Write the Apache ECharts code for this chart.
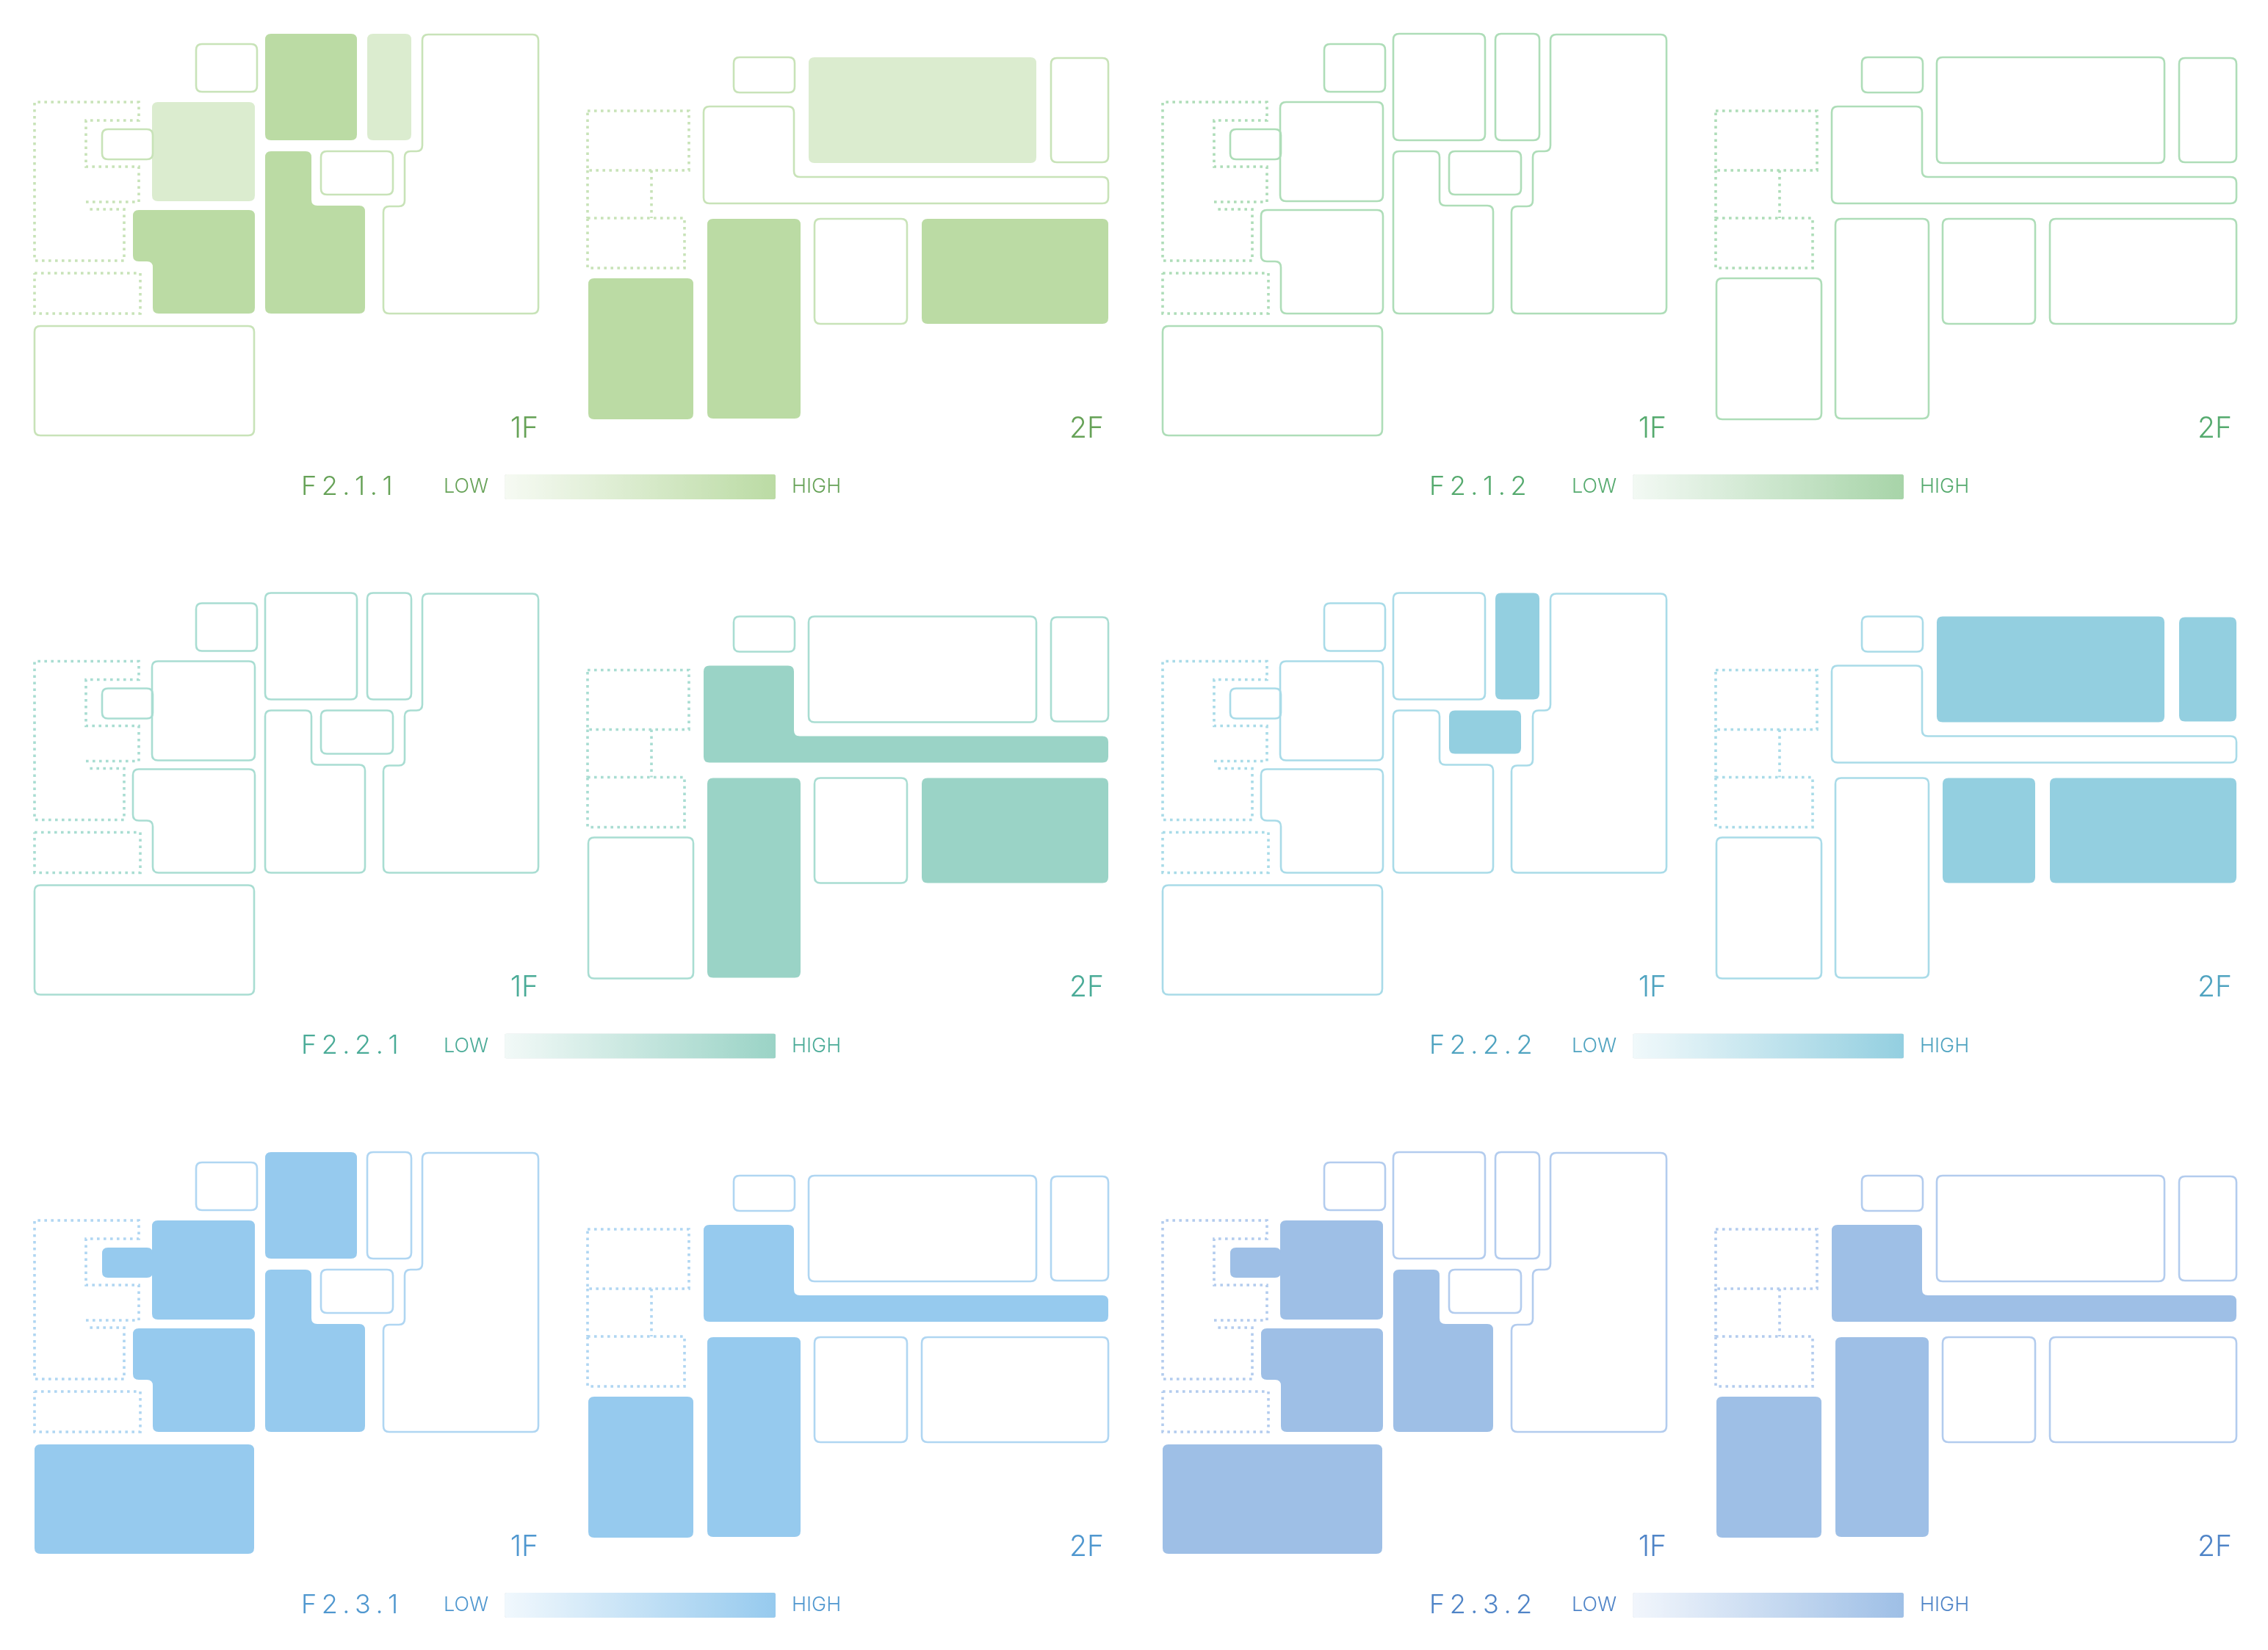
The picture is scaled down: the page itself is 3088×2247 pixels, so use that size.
<!DOCTYPE html>
<html>
<head>
<meta charset="utf-8">
<style>html,body{margin:0;padding:0;background:#fff}#c{width:3088px;height:2247px}</style>
<script src="https://cdn.jsdelivr.net/npm/echarts@6/dist/echarts.min.js"></script>
</head>
<body>
<div id="c"></div>
<script>
// Floor-plan geometry, in plan units.
const roomNames = ['A','B','C','D','E','F','G','H','I','L','a','b','c','d','e','f','g','h'];
const roomOutlines = [
  [[267,60],[350,60],[350,125],[267,125]],
  [[361,46],[486,46],[486,191],[361,191]],
  [[500,46],[560,46],[560,191],[500,191]],
  [[575,47],[733,47],[733,427],[522,427],[522,281],[551,281],[551,206],[575,206]],
  [[437,206],[535,206],[535,265],[437,265]],
  [[361,206],[424,206],[424,280],[497,280],[497,427],[361,427]],
  [[207,139],[347,139],[347,274],[207,274]],
  [[181,286],[347,286],[347,427],[208,427],[208,356],[181,356]],
  [[139,176],[208,176],[208,217],[139,217]],
  [[47,444],[346,444],[346,593],[47,593]],
  [[999,78],[1082,78],[1082,126],[999,126]],
  [[1101,78],[1411,78],[1411,222],[1101,222]],
  [[1431,79],[1509,79],[1509,221],[1431,221]],
  [[958,145],[1081,145],[1081,241],[1509,241],[1509,277],[958,277]],
  [[801,379],[944,379],[944,571],[801,571]],
  [[963,298],[1090,298],[1090,570],[963,570]],
  [[1109,298],[1235,298],[1235,441],[1109,441]],
  [[1255,298],[1509,298],[1509,441],[1255,441]]
];
const dottedWalls = [
  [[117,275],[189,275],[189,227],[117,227],[117,164],[189,164],[189,139],[47,139],[47,355],[169,355],[169,285],[117,285]],
  [[47,372],[191,372],[191,427],[47,427],[47,372]],
  [[800,151],[938,151],[938,232],[800,232],[800,151]],
  [[887,232],[887,297]],
  [[800,232],[800,297]],
  [[800,297],[932,297],[932,365],[800,365],[800,297]]
];

// Measure per room, in the order of roomNames (null = no reading).
const H = 1, M = 0.45, _ = null;
const F211 = [_,H,M,_,_,H,M,H,_,_, _,M,_,_,H,H,_,H];
const F212 = [_,_,_,_,_,_,_,_,_,_, _,_,_,_,_,_,_,_];
const F221 = [_,_,_,_,_,_,_,_,_,_, _,_,_,H,_,H,_,H];
const F222 = [_,_,H,_,H,_,_,_,_,_, _,H,H,_,_,_,H,H];
const F231 = [_,H,_,_,_,H,H,H,H,H, _,_,_,H,H,H,_,_];
const F232 = [_,_,_,_,_,H,H,H,H,H, _,_,_,H,H,H,_,_];
const panelValues = [F211,F212,F221,F222,F231,F232];

const panelTitles = ['F\u20092\u2009.\u20091\u2009.\u20091','F\u20092\u2009.\u20091\u2009.\u20092','F\u20092\u2009.\u20092\u2009.\u20091','F\u20092\u2009.\u20092\u2009.\u20092','F\u20092\u2009.\u20093\u2009.\u20091','F\u20092\u2009.\u20093\u2009.\u20092'];
const floorLabels = ['1F','2F'];
const legendEnds = ['HIGH','LOW'];

const highColors = ['#bbdba4','#a7d4a8','#9ad3c6','#93cfe0','#96caee','#9ebfe6'];
const lowColors  = ['#f6faf3','#f3f9f4','#f2f9f7','#f1f9fb','#f1f8fd','#f2f6fc'];
const lineColors = ['#c8e3b8','#aeddb8','#a9ddd2','#a9dbe8','#b0d6f2','#b3ccee'];
const textColors = ['#66a257','#55aa6e','#4aab97','#4fa3c0','#4f97cf','#4f84c7'];

const COL = 1536, ROW = 761.5, FONT = 'Inter, Roboto, sans-serif';

function panelPos(i){ return {x:(i%2)*COL, y:Math.floor(i/2)*ROW}; }

function roundedPath(pts, r){
  const n = pts.length; let d = '';
  for(let i=0;i<n;i++){
    const p = pts[i], a = pts[(i+n-1)%n], b = pts[(i+1)%n];
    const la = Math.hypot(a[0]-p[0],a[1]-p[1]), lb = Math.hypot(b[0]-p[0],b[1]-p[1]);
    const ra = Math.min(r,la/2), rb = Math.min(r,lb/2);
    const s = [p[0]+(a[0]-p[0])/la*ra, p[1]+(a[1]-p[1])/la*ra];
    const e = [p[0]+(b[0]-p[0])/lb*rb, p[1]+(b[1]-p[1])/lb*rb];
    d += (i===0?'M':'L')+s[0]+' '+s[1]+' Q'+p[0]+' '+p[1]+' '+e[0]+' '+e[1]+' ';
  }
  return d+'Z';
}
function openPath(pts){ return pts.map((p,i)=>(i?'L':'M')+p[0]+' '+p[1]).join(' '); }

function renderRoom(params, api){
  const pts = roomOutlines[api.value(0)].map(p=>api.coord(p));
  const v = api.value(1);
  const filled = v != null && !isNaN(v);
  return {
    type:'path',
    shape:{pathData:roundedPath(pts,8)},
    style: filled ? {fill:api.visual('color'),stroke:null}
                  : {fill:'none',stroke:lineColors[params.seriesIndex],lineWidth:2.6}
  };
}
function renderWall(params, api){
  const pts = dottedWalls[api.value(0)].map(p=>api.coord(p));
  return {
    type:'path',
    shape:{pathData:openPath(pts)},
    style:{fill:'none',stroke:lineColors[params.seriesIndex-6],lineWidth:3.6,lineDash:[3.6,5.4]}
  };
}

const grids=[],xAxes=[],yAxes=[],series=[],walls=[],maps=[],texts=[];
panelValues.forEach((vals,i)=>{
  const o = panelPos(i);
  grids.push({left:o.x,top:o.y,width:1530,height:700});
  xAxes.push({type:'value',gridIndex:i,min:0,max:1530,show:false});
  yAxes.push({type:'value',gridIndex:i,min:0,max:700,inverse:true,show:false});
  series.push({type:'custom',name:roomNames.join(''),xAxisIndex:i,yAxisIndex:i,silent:true,clip:false,
    renderItem:renderRoom,dimensions:['room','value'],encode:{x:-1,y:-1},
    data:vals.map((v,k)=>[k,v==null?'-':v])});
  walls.push({type:'custom',xAxisIndex:i,yAxisIndex:i,silent:true,clip:false,
    renderItem:renderWall,encode:{x:-1,y:-1},
    data:dottedWalls.map((w,k)=>[k])});
  maps.push({type:'continuous',min:0,max:1,orient:'horizontal',dimension:1,seriesIndex:i,
    calculable:false,hoverLink:false,itemWidth:34,itemHeight:369,itemGap:0,padding:0,textGap:22,
    left:o.x+604,top:o.y+646,text:legendEnds,
    inRange:{color:[lowColors[i],highColors[i]]},
    textStyle:{color:textColors[i],fontSize:27,fontWeight:300,fontFamily:FONT}});
  texts.push({type:'text',x:o.x+410,y:o.y+663,silent:true,
    style:{text:panelTitles[i],fill:textColors[i],font:'300 36px '+FONT,textAlign:'left',textVerticalAlign:'middle'}});
  texts.push({type:'text',x:o.x+733,y:o.y+584,silent:true,
    style:{text:floorLabels[0],fill:textColors[i],font:'300 39px '+FONT,textAlign:'right',textVerticalAlign:'middle'}});
  texts.push({type:'text',x:o.x+1503,y:o.y+584,silent:true,
    style:{text:floorLabels[1],fill:textColors[i],font:'300 39px '+FONT,textAlign:'right',textVerticalAlign:'middle'}});
});

const chart = echarts.init(document.getElementById('c'),null,{renderer:'canvas',width:3088,height:2247});
chart.setOption({
  animation:false,
  backgroundColor:'#fff',
  grid:grids,xAxis:xAxes,yAxis:yAxes,
  visualMap:maps,
  series:series.concat(walls),
  graphic:{elements:texts}
});
</script>
</body>
</html>
